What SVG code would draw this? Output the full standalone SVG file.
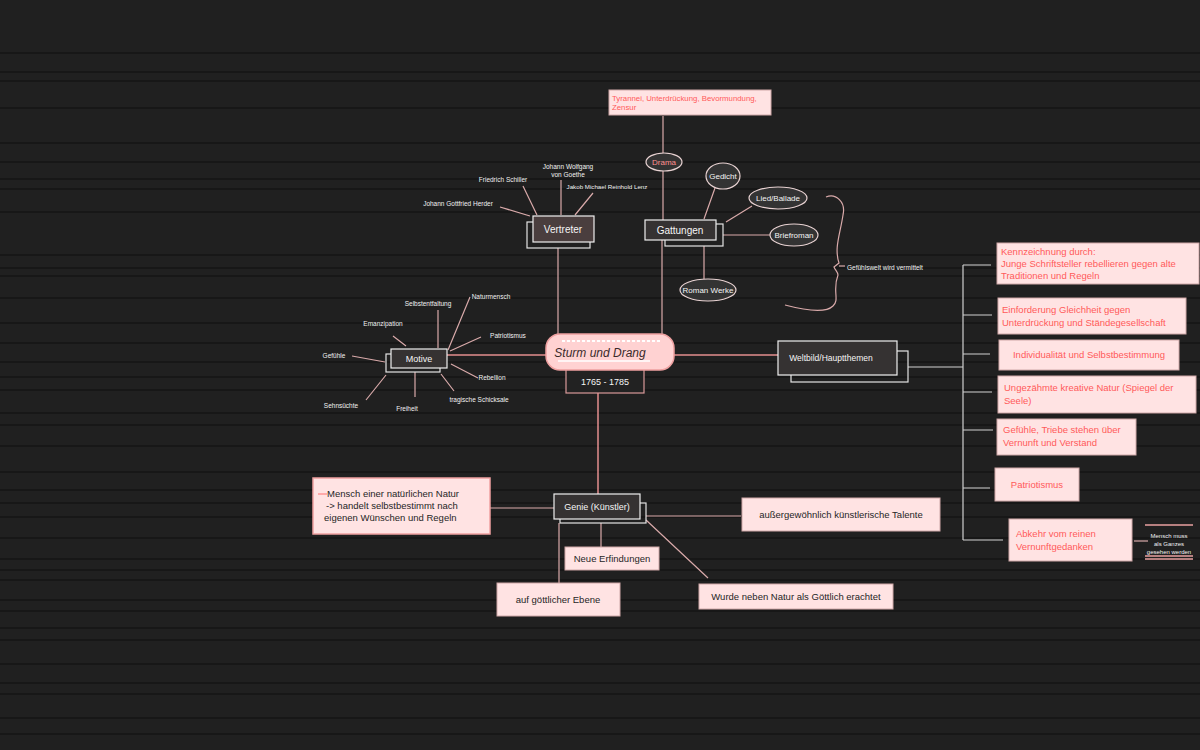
<svg xmlns="http://www.w3.org/2000/svg" width="1200" height="750" viewBox="0 0 1200 750">
<style>
.bgl{stroke:#141414;stroke-width:1.5}
.c{stroke:#d9aaaa;stroke-width:1.2;fill:none}
.cw{stroke:#cfcfcf;stroke-width:1.2;fill:none}
.cp{stroke:#e28d8d;stroke-width:1.5;fill:none}
.t{font-family:"Liberation Sans",Arial,sans-serif}
.lab{font-family:"Liberation Sans",Arial,sans-serif;font-size:6.5px;fill:#f2f2f2}
.dark{fill:#353232;stroke:#efefef;stroke-width:1.2}
.shadow{fill:none;stroke:#e4e4e4;stroke-width:1.2}
.ell{fill:#333;stroke:#e8d2d2;stroke-width:1.2}
.ellt{font-family:"Liberation Sans",Arial,sans-serif;font-size:8px;fill:#f4f4f4;text-anchor:middle}
.nt{font-family:"Liberation Sans",Arial,sans-serif;font-size:10px;fill:#f5f5f5;text-anchor:middle}
.pk{fill:#ffe3e3;stroke:#cfa8a8;stroke-width:1}
.rt{font-family:"Liberation Sans",Arial,sans-serif;font-size:9.5px;fill:#ff5a5a}
.bt{font-family:"Liberation Sans",Arial,sans-serif;font-size:9.5px;fill:#262626}
</style>
<rect width="1200" height="750" fill="#202020"/>
<g id="background-lines">
<path class="bgl" d="M0 53H1200M0 72H1200M0 81H1200M0 108H1200M0 143H1200M0 162H1200M0 179H1200M0 189H1200M0 212H1200M0 255H1200M0 268H1200M0 276H1200M0 298H1200M0 323H1200M0 343H1200M0 362H1200M0 377H1200M0 390H1200M0 413H1200M0 425H1200M0 446H1200M0 472H1200M0 490H1200M0 503H1200M0 517H1200M0 538H1200M0 559H1200M0 570H1200M0 580H1200M0 600H1200M0 611H1200M0 628H1200M0 640H1200M0 664H1200M0 683H1200M0 694H1200M0 718H1200M0 734H1200"/>
</g>
<g id="connectors">
<path class="c" d="M663 116V153M663 171V220M662 240V336"/>
<path class="c" d="M704 219L715 188M726 222L752 206M723 235H770M704 246V279"/>
<path class="c" d="M558 248V336M561 215V180M537 215L523 186M575 215L593 193M530 216L500 207"/>
<path class="cp" d="M546 355H447M674 355H778M598 393V494"/>
<path class="c" d="M438 348V310M448 350L470 297M406 346L393 336M450 351L481 337M385 362L352 356M451 364L478 378M386 375L366 400M415 372V397M441 374L454 391"/>
<path class="cw" d="M908 367H963M963 265V540M963 265H991M963 315H992M963 354H990M963 392H992M963 430H993M963 488H990M963 540H1003"/>
<path class="c" d="M554 508H490M646 516H741M601 523V547M559 523V583M646 520L708 578"/>
<path class="c" d="M1134 541H1148"/>
<path class="c" d="M826 197C836 193 846 202 843 215C840 235 834 248 839 263L834 267C835 270 838 272 838 275C832 290 840 300 833 306C825 314 800 309 785 305"/>
<path class="c" d="M839 266H845"/>
</g>
<g id="top-box">
<rect x="609" y="90" width="162" height="25" class="pk"/>
<text class="t" x="612" y="101" font-size="7.8" fill="#ff5a5a">Tyrannei, Unterdrückung, Bevormundung,</text>
<text class="t" x="612" y="110" font-size="7.8" fill="#ff5a5a">Zensur</text>
</g>
<g id="drama">
<ellipse cx="664" cy="162" rx="18" ry="9" class="ell"/>
<text class="ellt" x="664" y="165" style="fill:#ff8f8f">Drama</text>
</g>
<g id="gattungen">
<rect x="665" y="224" width="58" height="22" class="shadow"/>
<rect x="645" y="220" width="71" height="20" class="dark" fill="#2f2f2f"/>
<text class="nt" x="680" y="234">Gattungen</text>
</g>
<g id="gedicht">
<ellipse cx="723" cy="176" rx="17" ry="13" class="ell"/>
<text class="ellt" x="723" y="179">Gedicht</text>
</g>
<g id="lied">
<ellipse cx="778" cy="198" rx="29" ry="11" class="ell"/>
<text class="ellt" x="778" y="201">Lied/Ballade</text>
</g>
<g id="briefroman">
<ellipse cx="794" cy="235" rx="24" ry="11" class="ell"/>
<text class="ellt" x="794" y="238">Briefroman</text>
</g>
<g id="romanwerke">
<ellipse cx="708" cy="290" rx="28" ry="11" class="ell"/>
<text class="ellt" x="708" y="293">Roman Werke</text>
</g>
<g id="brace-label">
<text class="lab" x="847" y="270">Gefühlswelt wird vermittelt</text>
</g>
<g id="vertreter">
<rect x="527" y="222" width="63" height="26" class="shadow"/>
<rect x="533" y="216" width="61" height="26" fill="#4a3e3e" stroke="#efefef" stroke-width="1.2"/>
<text class="nt" x="563" y="233">Vertreter</text>
</g>
<g id="goethe"><text class="lab" x="568" y="169" text-anchor="middle">Johann Wolfgang</text><text class="lab" x="568" y="177" text-anchor="middle">von Goethe</text></g>
<g id="schiller"><text class="lab" x="503" y="182" text-anchor="middle">Friedrich Schiller</text></g>
<g id="lenz"><text class="lab" x="607" y="189" text-anchor="middle" style="font-size:6.2px">Jakob Michael Reinhold Lenz</text></g>
<g id="herder"><text class="lab" x="458" y="206" text-anchor="middle">Johann Gottfried Herder</text></g>
<g id="center">
<rect x="566" y="368" width="78" height="25" fill="#222" stroke="#d99a9a" stroke-width="1.2"/>
<text class="nt" x="605" y="385" style="font-size:9px">1765 - 1785</text>
<rect x="546" y="334" width="128" height="36" rx="14" fill="#ffd2d2" stroke="#eea0a0" stroke-width="1.5"/>
<path d="M562 341H660" stroke="#ffffff" stroke-width="2" stroke-dasharray="3 2"/>
<text class="t" x="600" y="357" text-anchor="middle" font-size="12" font-style="italic" fill="#3a2a2a">Sturm und Drang</text>
<path d="M558 361H650" stroke="#ffffff" stroke-width="1.5"/>
</g>
<g id="motive">
<rect x="386" y="354" width="54" height="18" class="shadow"/>
<rect x="391" y="349" width="56" height="19" class="dark" fill="#333"/>
<text class="nt" x="419" y="362" style="font-size:9px">Motive</text>
</g>
<g id="m-selbst"><text class="lab" x="428" y="306" text-anchor="middle">Selbstentfaltung</text></g>
<g id="m-natur"><text class="lab" x="491" y="299" text-anchor="middle">Naturmensch</text></g>
<g id="m-emanz"><text class="lab" x="383" y="326" text-anchor="middle">Emanzipation</text></g>
<g id="m-patr"><text class="lab" x="508" y="338" text-anchor="middle">Patriotismus</text></g>
<g id="m-gef"><text class="lab" x="334" y="358" text-anchor="middle">Gefühle</text></g>
<g id="m-rebel"><text class="lab" x="492" y="380" text-anchor="middle">Rebellion</text></g>
<g id="m-sehn"><text class="lab" x="341" y="408" text-anchor="middle">Sehnsüchte</text></g>
<g id="m-frei"><text class="lab" x="407" y="411" text-anchor="middle">Freiheit</text></g>
<g id="m-trag"><text class="lab" x="479" y="402" text-anchor="middle">tragische Schicksale</text></g>
<g id="weltbild">
<rect x="791" y="351" width="117" height="31" class="shadow"/>
<rect x="778" y="341" width="119" height="34" class="dark" fill="#363636"/>
<text class="nt" x="831" y="361" style="font-size:8.5px">Weltbild/Hauptthemen</text>
</g>
<g id="r1"><rect x="997" y="243" width="202" height="41" class="pk"/>
<text class="rt" x="1001" y="255">Kennzeichnung durch:</text>
<text class="rt" x="1001" y="267">Junge Schriftsteller rebellieren gegen alte</text>
<text class="rt" x="1001" y="279">Traditionen und Regeln</text></g>
<g id="r2"><rect x="998" y="298" width="188" height="36" class="pk"/>
<text class="rt" x="1002" y="313">Einforderung Gleichheit gegen</text>
<text class="rt" x="1002" y="326">Unterdrückung und Ständegesellschaft</text></g>
<g id="r3"><rect x="999" y="340" width="180" height="30" class="pk"/>
<text class="rt" x="1089" y="358" text-anchor="middle">Individualität und Selbstbestimmung</text></g>
<g id="r4"><rect x="998" y="376" width="198" height="37" class="pk"/>
<text class="rt" x="1004" y="391">Ungezähmte kreative Natur (Spiegel der</text>
<text class="rt" x="1004" y="404">Seele)</text></g>
<g id="r5"><rect x="997" y="419" width="139" height="36" class="pk"/>
<text class="rt" x="1003" y="433">Gefühle, Triebe stehen über</text>
<text class="rt" x="1003" y="446">Vernunft und Verstand</text></g>
<g id="r6"><rect x="995" y="468" width="84" height="33" class="pk"/>
<text class="rt" x="1037" y="488" text-anchor="middle">Patriotismus</text></g>
<g id="r7"><rect x="1009" y="519" width="123" height="42" class="pk"/>
<text class="rt" x="1016" y="537">Abkehr vom reinen</text>
<text class="rt" x="1016" y="550">Vernunftgedanken</text></g>
<g id="note">
<path d="M1145 525H1193M1145 556H1193M1145 559H1193" stroke="#e8a0a0" stroke-width="1.3"/>
<text class="lab" x="1169" y="538" text-anchor="middle" style="font-size:6px">Mensch muss</text>
<text class="lab" x="1169" y="546" text-anchor="middle" style="font-size:6px">als Ganzes</text>
<text class="lab" x="1169" y="554" text-anchor="middle" style="font-size:6px">gesehen werden</text>
</g>
<g id="genie">
<rect x="560" y="503" width="86" height="20" class="shadow"/>
<rect x="554" y="494" width="86" height="25" class="dark" fill="#333"/>
<text class="nt" x="597" y="510" style="font-size:9px">Genie (Künstler)</text>
</g>
<g id="mensch"><rect x="313" y="478" width="177" height="56" fill="#ffe3e3" stroke="#f0a0a0" stroke-width="1.5"/>
<path d="M318 494H327" stroke="#ff7070" stroke-width="1"/>
<text class="bt" x="327" y="497">Mensch einer natürlichen Natur</text>
<text class="bt" x="326" y="509">-&gt; handelt selbstbestimmt nach</text>
<text class="bt" x="324" y="521">eigenen Wünschen und Regeln</text></g>
<g id="talente"><rect x="742" y="498" width="198" height="33" class="pk"/>
<text class="bt" x="841" y="518" text-anchor="middle">außergewöhnlich künstlerische Talente</text></g>
<g id="erfindungen"><rect x="565" y="547" width="94" height="23" class="pk"/>
<text class="bt" x="612" y="562" text-anchor="middle">Neue Erfindungen</text></g>
<g id="ebene"><rect x="497" y="583" width="123" height="33" class="pk"/>
<text class="bt" x="558" y="603" text-anchor="middle">auf göttlicher Ebene</text></g>
<g id="goettlich"><rect x="699" y="584" width="194" height="25" class="pk"/>
<text class="bt" x="796" y="600" text-anchor="middle">Wurde neben Natur als Göttlich erachtet</text></g>
</svg>
